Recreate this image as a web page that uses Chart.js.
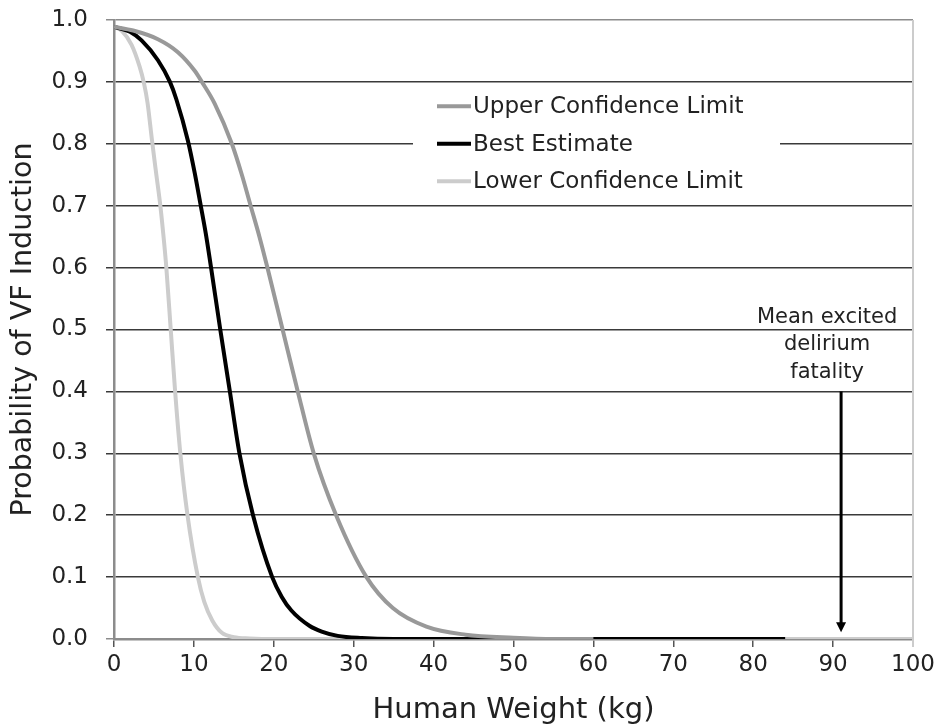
<!DOCTYPE html>
<html>
<head>
<meta charset="utf-8">
<script src="https://cdn.jsdelivr.net/npm/chart.js@4/dist/chart.umd.min.js"></script>
<style>
  html, body { margin: 0; padding: 0; background: #fff; }
  #wrap { width: 943px; height: 728px; }
</style>
</head>
<body>
<div id="wrap"><canvas id="chart" width="943" height="728"></canvas></div>
<script>
// values (weight in kg -> probability)
const upperWeight = [0, 2.4, 5.5, 8, 10.1, 11, 12.6, 14.75, 16, 17.1, 18.2, 19.2, 21.1, 23, 25, 27.8, 31.6, 34.9, 39.1, 44, 50, 55, 60];
const upperProb   = [0.989, 0.983, 0.969, 0.948, 0.918, 0.9, 0.865, 0.8, 0.75, 0.7, 0.65, 0.6, 0.5, 0.4, 0.3, 0.2, 0.1, 0.05, 0.02, 0.007, 0.002, 0, 0];

const bestWeight = [0, 2, 3.45, 5.5, 7, 7.8, 9.25, 10.1, 10.8, 11.5, 12.1, 13.3, 14.5, 15.7, 17.4, 19.8, 21, 22.2, 24.5, 26, 28, 31, 35, 60, 84];
const bestProb   = [0.989, 0.981, 0.967, 0.935, 0.9, 0.872, 0.805, 0.753, 0.704, 0.654, 0.604, 0.5, 0.4, 0.3, 0.2, 0.1, 0.068, 0.046, 0.021, 0.012, 0.005, 0.0015, 0, 0, 0];

const lowerWeight = [0, 1, 2.2, 3.2, 3.75, 4.2, 4.75, 5.3, 5.8, 6.2, 6.55, 7.1, 7.65, 8.3, 9.2, 10.5, 11.3, 12.3, 13.5, 15, 17, 20, 100];
const lowerProb   = [0.989, 0.982, 0.96, 0.925, 0.898, 0.866, 0.806, 0.75, 0.7, 0.65, 0.6, 0.5, 0.4, 0.3, 0.2, 0.1, 0.06, 0.03, 0.01, 0.003, 0.001, 0, 0];

const seriesNames = ['Upper Confidence Limit', 'Best Estimate', 'Lower Confidence Limit'];
const seriesColors = ['#999999', '#000000', '#cccccc'];

const xTicks = [0, 10, 20, 30, 40, 50, 60, 70, 80, 90, 100];
const yTicks = [0, 0.1, 0.2, 0.3, 0.4, 0.5, 0.6, 0.7, 0.8, 0.9, 1.0];

const markerWeight = 91;     // mean excited delirium fatality
const markerTop = 0.4;
const markerBottom = 0.011;
const markerText = ['Mean excited', 'delirium', 'fatality'];

function toPoints(xs, ys) {
  return xs.map((x, i) => ({ x: x, y: ys[i] }));
}

const FONT = 'DejaVu Sans, Verdana, sans-serif';

// legend box drawn inside the plot, over the gridlines
const legendBox = {
  id: 'legendBox',
  beforeDatasetsDraw(chart) {
    const ctx = chart.ctx;
    const ys = chart.scales.y;
    const top = ys.getPixelForValue(0.9) + 2;
    const bottom = ys.getPixelForValue(0.7) - 2;
    const mid = ys.getPixelForValue(0.8);
    ctx.save();
    ctx.fillStyle = '#fff';
    ctx.fillRect(413, top, 367, bottom - top);
    ctx.font = '23px ' + FONT;
    ctx.textBaseline = 'middle';
    ctx.fillStyle = '#222';
    const rows = [mid - 37.5, mid, mid + 37.5];
    seriesNames.forEach((name, i) => {
      ctx.strokeStyle = seriesColors[i];
      ctx.lineWidth = 4;
      ctx.beginPath();
      ctx.moveTo(437, rows[i]);
      ctx.lineTo(471, rows[i]);
      ctx.stroke();
      ctx.fillText(name, 473, rows[i] + 1);
    });
    ctx.restore();
  }
};

// right border + arrow annotation
const extras = {
  id: 'extras',
  afterDatasetsDraw(chart) {
    const ctx = chart.ctx;
    const area = chart.chartArea;
    const xs = chart.scales.x, ys = chart.scales.y;
    ctx.save();
    ctx.strokeStyle = '#cccccc';
    ctx.lineWidth = 2;
    ctx.beginPath();
    ctx.moveTo(area.right, area.top);
    ctx.lineTo(area.right, area.bottom + 8);
    ctx.stroke();

    const ax = xs.getPixelForValue(markerWeight);
    const y0 = ys.getPixelForValue(markerTop);
    const y1 = ys.getPixelForValue(markerBottom);
    ctx.strokeStyle = '#000';
    ctx.lineWidth = 3;
    ctx.beginPath();
    ctx.moveTo(ax, y0);
    ctx.lineTo(ax, y1 - 8);
    ctx.stroke();
    ctx.fillStyle = '#000';
    ctx.beginPath();
    ctx.moveTo(ax - 5, y1 - 10);
    ctx.lineTo(ax + 5, y1 - 10);
    ctx.lineTo(ax, y1);
    ctx.closePath();
    ctx.fill();

    ctx.font = '21px ' + FONT;
    ctx.fillStyle = '#222';
    ctx.textAlign = 'center';
    ctx.textBaseline = 'middle';
    markerText.forEach((t, i) => {
      ctx.fillText(t, ax - 14, y0 - 74 + i * 27.5);
    });
    ctx.restore();
  }
};

new Chart(document.getElementById('chart'), {
  type: 'line',
  data: {
    datasets: [
      { label: seriesNames[0], data: toPoints(upperWeight, upperProb) },
      { label: seriesNames[1], data: toPoints(bestWeight, bestProb) },
      { label: seriesNames[2], data: toPoints(lowerWeight, lowerProb) }
    ].map((d, i) => Object.assign(d, {
      borderColor: seriesColors[i],
      backgroundColor: seriesColors[i],
      borderWidth: 4,
      pointRadius: 0,
      fill: false,
      cubicInterpolationMode: 'monotone'
    }))
  },
  options: {
    responsive: false,
    animation: false,
    events: [],
    layout: { padding: { top: 20, right: 30, left: 0, bottom: 0 } },
    plugins: {
      legend: { display: false },
      tooltip: { enabled: false }
    },
    scales: {
      x: {
        type: 'linear',
        min: 0, max: 100,
        afterBuildTicks: s => { s.ticks = xTicks.map(v => ({ value: v })); },
        afterFit: s => { s.height = 89; },
        grid: { drawOnChartArea: false, drawTicks: true, tickLength: 8, color: '#555', lineWidth: 1.5 },
        border: { color: '#8c8c8c', width: 2.5 },
        ticks: { font: { family: FONT, size: 23 }, color: '#222', padding: 4, maxRotation: 0 },
        title: { display: true, text: 'Human Weight (kg)', font: { family: FONT, size: 29 }, color: '#222', padding: { top: 0, bottom: 0 } }
      },
      y: {
        min: 0, max: 1,
        afterBuildTicks: s => { s.ticks = yTicks.map(v => ({ value: v })); },
        afterFit: s => { s.width = 114; s.paddingTop = 0; s.paddingBottom = 0; },
        grid: {
          tickLength: 8,
          lineWidth: 1.5,
          color: c => (c.tick && (c.tick.value === 1 || c.tick.value === 0)) ? '#8c8c8c' : '#3a3a3a'
        },
        border: { color: '#8c8c8c', width: 2.5 },
        ticks: { font: { family: FONT, size: 23 }, color: '#222', padding: 18, callback: v => v.toFixed(1) },
        title: { display: true, text: 'Probability of VF Induction', font: { family: FONT, size: 28.5 }, color: '#222', padding: { top: 6, bottom: 0 } }
      }
    }
  },
  plugins: [legendBox, extras]
});
</script>
</body>
</html>
